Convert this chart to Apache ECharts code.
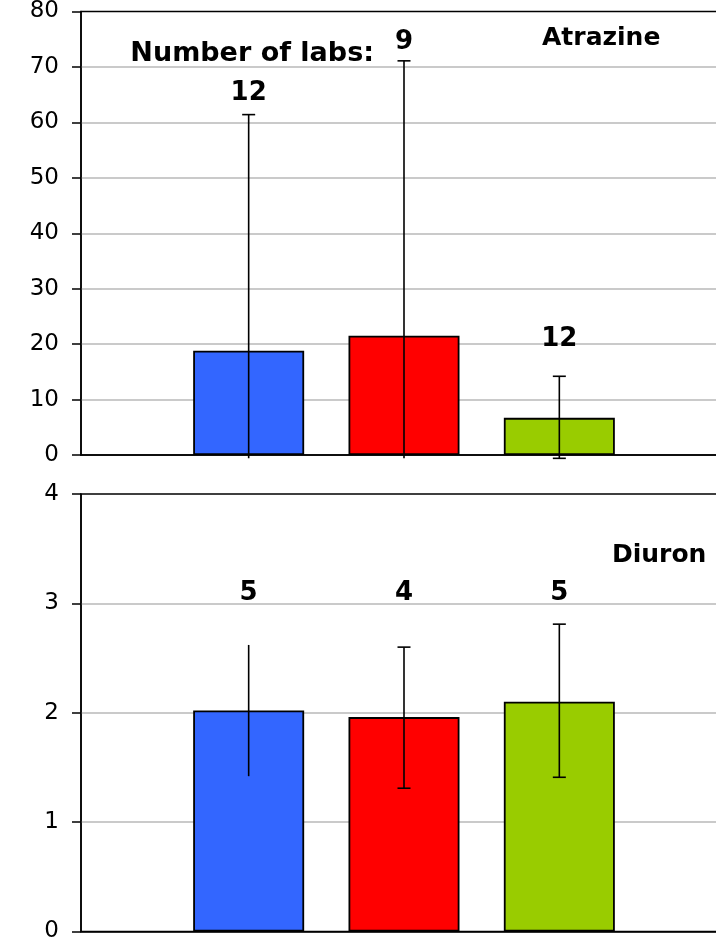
<!DOCTYPE html>
<html>
<head>
<meta charset="utf-8">
<script src="https://cdn.jsdelivr.net/npm/echarts@6/dist/echarts.min.js"></script>
<style>
html,body{margin:0;padding:0;background:#fff;}
#chart{width:716px;height:938px;}
</style>
</head>
<body>
<div id="chart"></div>
<script>
// ---- data ----
const groups = ['Group 1', 'Group 2', 'Group 3'];

const atrazineMeans   = [18.8, 21.5, 6.7];
const atrazineErrHigh = [61.4, 71.1, 14.2];
const atrazineErrLow  = [-23.8, -28.1, -0.6];
const atrazineLabs    = [12, 9, 12];

const diuronMeans   = [2.02, 1.96, 2.10];
const diuronErrHigh = [2.62, 2.60, 2.81];
const diuronErrLow  = [1.42, 1.31, 1.41];
const diuronLabs    = [5, 4, 5];

const atrazineAxis = {min: 0, max: 80, interval: 10};
const diuronAxis   = {min: 0, max: 4, interval: 1};

// ---- styling / layout ----
const barColors = ['#3366FF', '#FF0000', '#99CC00'];
const atrazineLabelY = [65.3, 74.4, 20.9];
const diuronLabelY   = [3.09, 3.09, 3.09];
const atrazineClipFloor = -0.6;
const atrazineCaps = [true, true, true];
const diuronCaps   = [false, true, true];

const FONT = 'DejaVu Sans';

function frameAxes(gridIndex, ax) {
  return {
    x: {
      type: 'category', gridIndex: gridIndex, data: [''],
      axisLine: {show: true, lineStyle: {color: '#000', width: 1.5}},
      axisTick: {show: false}, axisLabel: {show: false}, splitLine: {show: false}
    },
    y: {
      type: 'value', gridIndex: gridIndex, min: ax.min, max: ax.max, interval: ax.interval,
      axisLine: {show: true, lineStyle: {color: '#000', width: 1.5}},
      axisTick: {show: true, inside: false, length: 9, lineStyle: {color: '#000', width: 1.5}},
      axisLabel: {show: true, color: '#000', fontFamily: FONT, fontSize: 23, margin: 22},
      splitLine: {show: true, showMaxLine: false, showMinLine: false, lineStyle: {color: '#b9b9b9', width: 1.5}}
    }
  };
}
function barAxes(gridIndex, ax) {
  return {
    x: {type: 'category', gridIndex: gridIndex, data: groups, show: false},
    y: {type: 'value', gridIndex: gridIndex, min: ax.min, max: ax.max, interval: ax.interval, show: false}
  };
}

const f0 = frameAxes(0, atrazineAxis), b1 = barAxes(1, atrazineAxis);
const f2 = frameAxes(2, diuronAxis),   b3 = barAxes(3, diuronAxis);

function barSeries(axisIdx, means) {
  return {
    type: 'bar', xAxisIndex: axisIdx, yAxisIndex: axisIdx, barWidth: 111,
    data: means.map((v, i) => ({value: v, itemStyle: {color: barColors[i]}})),
    itemStyle: {borderColor: '#000', borderWidth: 1.8},
    z: 3, silent: true
  };
}
function errSeries(axisIdx, lows, highs, caps, floor) {
  return {
    type: 'custom', xAxisIndex: axisIdx, yAxisIndex: axisIdx, z: 5, silent: true,
    data: lows.map((l, i) => [i, l, highs[i]]),
    encode: {x: 0, y: [1, 2]},
    renderItem: function (params, api) {
      const i = api.value(0);
      const lo = api.value(1), hi = api.value(2);
      const clipped = floor !== undefined && lo < floor;
      const loShown = clipped ? floor : lo;
      const pH = api.coord([i, hi]);
      const pL = api.coord([i, loShown]);
      const x = pH[0];
      const half = 6.5;
      const style = {stroke: '#000', lineWidth: 1.6};
      const children = [
        {type: 'line', shape: {x1: x, y1: pH[1], x2: x, y2: pL[1]}, style: style}
      ];
      if (caps[i]) {
        children.push({type: 'line', shape: {x1: x - half, y1: pH[1], x2: x + half, y2: pH[1]}, style: style});
        if (!clipped) {
          children.push({type: 'line', shape: {x1: x - half, y1: pL[1], x2: x + half, y2: pL[1]}, style: style});
        }
      }
      return {type: 'group', children: children};
    }
  };
}
function countSeries(axisIdx, labs, ys) {
  return {
    type: 'scatter', xAxisIndex: axisIdx, yAxisIndex: axisIdx, symbolSize: 0, z: 6, silent: true,
    itemStyle: {opacity: 1},
    data: labs.map((n, i) => ({value: [i, ys[i]], label: {formatter: String(n)}})),
    label: {show: true, position: 'inside', color: '#000', opacity: 1, fontFamily: FONT, fontWeight: 'bold', fontSize: 26}
  };
}

const gridBase = {outerBoundsMode: 'none', containLabel: false};
const option = {
  backgroundColor: '#fff',
  animation: false,
  grid: [
    Object.assign({left: 81, top: 11.5, width: 646, height: 443.5, show: true, borderColor: '#000', borderWidth: 1.5, backgroundColor: 'transparent'}, gridBase),
    Object.assign({left: 171, top: 11.5, width: 466, height: 443.5}, gridBase),
    Object.assign({left: 81, top: 494, width: 646, height: 437.5, show: true, borderColor: '#000', borderWidth: 1.5, backgroundColor: 'transparent'}, gridBase),
    Object.assign({left: 171, top: 494, width: 466, height: 437.5}, gridBase)
  ],
  xAxis: [f0.x, b1.x, f2.x, b3.x],
  yAxis: [f0.y, b1.y, f2.y, b3.y],
  series: [
    barSeries(1, atrazineMeans),
    errSeries(1, atrazineErrLow, atrazineErrHigh, atrazineCaps, atrazineClipFloor),
    countSeries(1, atrazineLabs, atrazineLabelY),
    barSeries(3, diuronMeans),
    errSeries(3, diuronErrLow, diuronErrHigh, diuronCaps),
    countSeries(3, diuronLabs, diuronLabelY)
  ],
  graphic: [
    {type: 'text', right: 716 - 374, top: 40, style: {text: 'Number of labs:', fill: '#000', font: 'bold 27px "DejaVu Sans"'}},
    {type: 'text', left: 542, top: 26, style: {text: 'Atrazine', fill: '#000', font: 'bold 25px "DejaVu Sans"'}},
    {type: 'text', left: 612, top: 543, style: {text: 'Diuron', fill: '#000', font: 'bold 25px "DejaVu Sans"'}}
  ]
};

const chart = echarts.init(document.getElementById('chart'), null, {renderer: 'canvas'});
chart.setOption(option);
</script>
</body>
</html>
